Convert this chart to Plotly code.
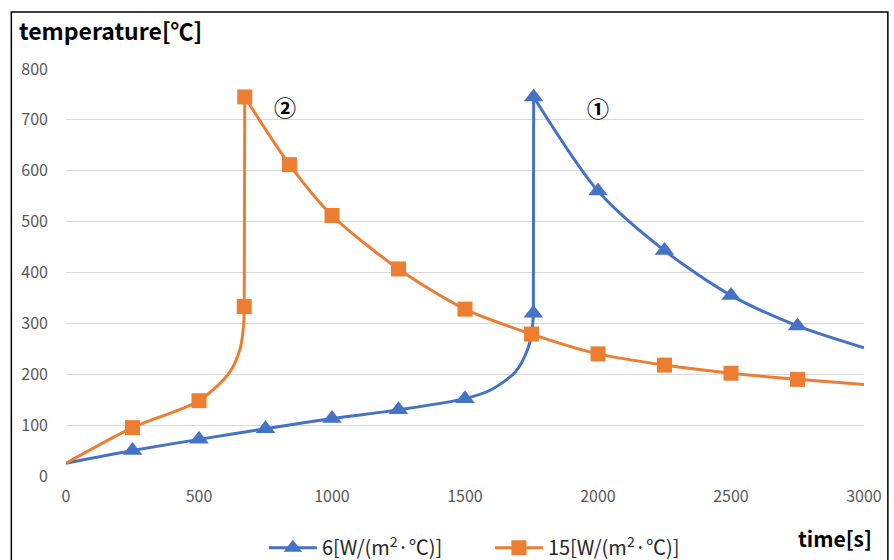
import plotly.graph_objects as go

# ---- data ----
# series 1: 6 [W/(m2·℃)]  (blue)
blue_rise_x = [0, 250, 500, 750, 1000, 1250, 1500, 1600, 1690, 1735, 1752, 1757]
blue_rise_y = [25, 50, 72, 93, 113, 130, 152, 170, 205, 248, 285, 320]
blue_jump_x = [1757, 1758]
blue_jump_y = [320, 745]
blue_decay_x = [1758, 2000, 2250, 2500, 2750, 3000]
blue_decay_y = [745, 560, 443, 355, 295, 252]
blue_mark_x = [250, 500, 750, 1000, 1250, 1500, 1757, 1758, 2000, 2250, 2500, 2750]
blue_mark_y = [50, 72, 93, 113, 130, 152, 320, 745, 560, 443, 355, 295]

# series 2: 15 [W/(m2·℃)]  (orange)
orange_rise_x = [0, 250, 500, 613, 656, 668, 670]
orange_rise_y = [25, 95, 148, 202, 253, 300, 333]
orange_jump_x = [670, 672]
orange_jump_y = [333, 745]
orange_decay_x = [672, 840, 1000, 1250, 1500, 1750, 2000, 2250, 2500, 2750, 3000]
orange_decay_y = [745, 612, 512, 407, 328, 279, 240, 218, 202, 190, 180]
orange_mark_x = [250, 500, 670, 672, 840, 1000, 1250, 1500, 1750, 2000, 2250, 2500, 2750]
orange_mark_y = [95, 148, 333, 745, 612, 512, 407, 328, 279, 240, 218, 202, 190]

x_ticks = [0, 500, 1000, 1500, 2000, 2500, 3000]
y_ticks = [0, 100, 200, 300, 400, 500, 600, 700, 800]

BLUE = "#4472C4"
ORANGE = "#ED7D31"
FONT = "Noto Sans CJK KR"

fig = go.Figure()

def add_series(color, segs, mx, my, symbol, msize, name):
    for (sx, sy, shape) in segs:
        fig.add_trace(go.Scatter(x=sx, y=sy, mode="lines",
                                 line=dict(color=color, width=3, shape=shape, smoothing=0.8),
                                 showlegend=False, hoverinfo="skip"))
    fig.add_trace(go.Scatter(x=mx, y=my, mode="markers",
                             marker=dict(color=color, symbol=symbol, size=msize),
                             showlegend=False))
    fig.add_trace(go.Scatter(x=[None], y=[None], mode="lines+markers", name=name,
                             line=dict(color=color, width=3),
                             marker=dict(color=color, symbol=symbol, size=msize)))

add_series(BLUE, [(blue_rise_x, blue_rise_y, "spline"),
                  (blue_jump_x, blue_jump_y, "linear"),
                  (blue_decay_x, blue_decay_y, "spline")],
           blue_mark_x, blue_mark_y, "triangle-up", 17, "6[W/(m<sup>2</sup>·℃)]")
add_series(ORANGE, [(orange_rise_x, orange_rise_y, "spline"),
                    (orange_jump_x, orange_jump_y, "linear"),
                    (orange_decay_x, orange_decay_y, "spline")],
           orange_mark_x, orange_mark_y, "square", 15, "15[W/(m<sup>2</sup>·℃)]")

fig.update_layout(
    width=894, height=560,
    margin=dict(l=66, r=25, t=69, b=84),
    paper_bgcolor="white", plot_bgcolor="white",
    font=dict(family=FONT, color="#595959"),
    showlegend=True,
    legend=dict(orientation="h", xref="container", yref="container",
                x=0.548, xanchor="center", y=0.022, yanchor="middle",
                font=dict(size=20, color="#262626", family=FONT),
                itemwidth=48, entrywidth=163, traceorder="normal"),
    xaxis=dict(range=[0, 3000], tickvals=x_ticks, showgrid=False, zeroline=False,
               showline=False, ticks="", tickfont=dict(size=16, color="#595959"),
               ticklabelstandoff=9),
    yaxis=dict(range=[0, 800], tickvals=y_ticks, showgrid=True, gridcolor="#D9D9D9",
               gridwidth=1, zeroline=False, showline=False, ticks="",
               tickfont=dict(size=16, color="#595959"), ticklabelstandoff=17),
    annotations=[
        dict(text="<b>temperature[℃]</b>", xref="paper", yref="paper", x=-0.062, y=1.096,
             xanchor="left", yanchor="middle", showarrow=False,
             font=dict(size=23, color="black", family=FONT)),
        dict(text="<b>time[s]</b>", xref="paper", yref="paper", x=1.012, y=-0.152,
             xanchor="right", yanchor="middle", showarrow=False,
             font=dict(size=21, color="black", family=FONT)),
        dict(text="<b>①</b>", x=2000, y=725, showarrow=False,
             font=dict(size=22, color="black", family=FONT)),
        dict(text="<b>②</b>", x=825, y=727, showarrow=False,
             font=dict(size=22, color="black", family=FONT)),
    ],
    shapes=[dict(type="rect", xref="paper", yref="paper",
                 x0=-0.0685, x1=1.0299, y0=-0.35, y1=1.140,
                 line=dict(color="black", width=1.5), fillcolor="rgba(0,0,0,0)")],
)

fig.write_html("out.html")
